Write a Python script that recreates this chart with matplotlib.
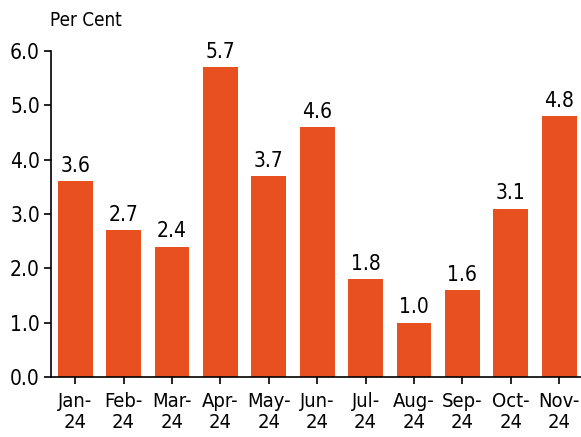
import matplotlib.pyplot as plt

months = ['Jan-\n24', 'Feb-\n24', 'Mar-\n24', 'Apr-\n24', 'May-\n24', 'Jun-\n24',
          'Jul-\n24', 'Aug-\n24', 'Sep-\n24', 'Oct-\n24', 'Nov-\n24']
values = [3.6, 2.7, 2.4, 5.7, 3.7, 4.6, 1.8, 1.0, 1.6, 3.1, 4.8]
yticks = [0.0, 1.0, 2.0, 3.0, 4.0, 5.0, 6.0]

plt.rcParams['font.family'] = ['DejaVu Sans']
plt.rcParams['font.stretch'] = 'condensed'

fig = plt.figure(figsize=(5.81, 4.37), dpi=100)
ax = fig.add_axes([51 / 581, 60 / 437, 530 / 581, 326 / 437])

x = range(len(values))
bars = ax.bar(x, values, width=0.72, color='#E8501F')
for xi, v in zip(x, values):
    ax.text(xi, v + 0.1, f'{v:.1f}', ha='center', va='bottom', fontsize=15)

ax.set_xlim(-0.5, 10.45)
ax.set_ylim(0, 6.0)
ax.set_yticks(yticks)
ax.set_yticklabels([f'{t:.1f}' for t in yticks], fontsize=15)
ax.set_xticks(list(x))
ax.set_xticklabels(months, fontsize=14.5, linespacing=1.1)
ax.tick_params(axis='both', direction='out', length=5, width=1.2)
ax.tick_params(axis='x', pad=6)
ax.tick_params(axis='y', pad=3)
ax.spines['top'].set_visible(False)
ax.spines['right'].set_visible(False)
ax.spines['left'].set_linewidth(1.2)
ax.spines['bottom'].set_linewidth(1.2)

fig.text(50 / 581, 1 - 20 / 437, 'Per Cent', fontsize=13.5, va='center', ha='left')

fig.savefig('out.png', dpi=100)
